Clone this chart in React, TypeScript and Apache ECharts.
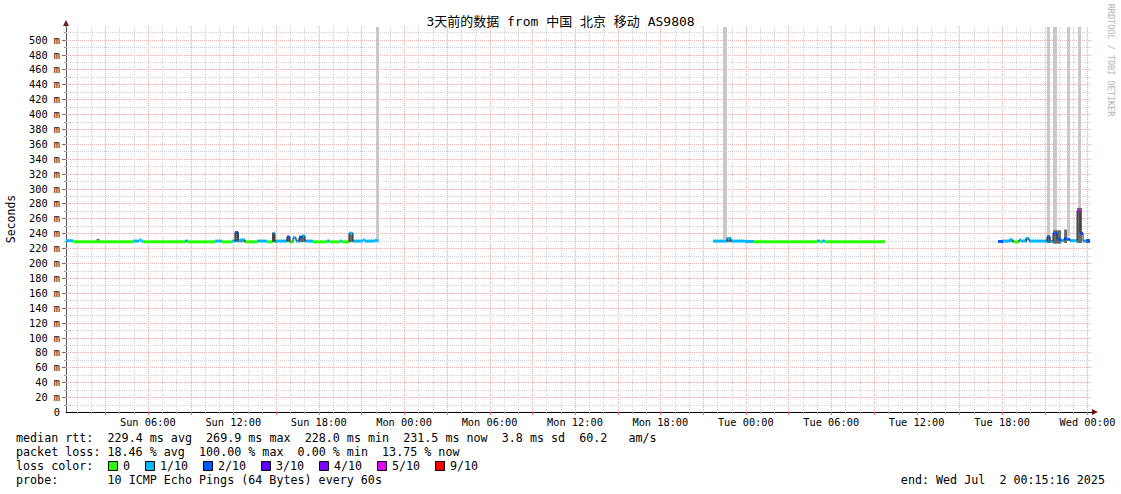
import React, { useEffect, useRef } from 'react';
import * as echarts from 'echarts';

// ---------------- data ----------------
const chartTitle = '3天前的数据 from 中国 北京 移动 AS9808';
const yAxisName = 'Seconds';
const watermark = 'RRDTOOL / TOBI OETIKER';

// x axis: hours since Sun 00:00 (start Sun 00:15, end Wed 00:15)
const xStartHour = 0.25;
const xEndHour = 72.25;
const dayNames = ['Sun', 'Mon', 'Tue', 'Wed'];
const xLabelHours = [6, 12, 18, 24, 30, 36, 42, 48, 54, 60, 66, 72];
const yMin = 0;
const yMax = 517;
const yLabelStep = 20;

const lossColors = ['#26ff00', '#00b8ff', '#0059ff', '#5e00ff', '#7e00ff', '#dd00ff', '#ff0000'];
const lossLabels = ['0', '1/10', '2/10', '3/10', '4/10', '5/10', '9/10'];

// median rtt segments: [startHour, endHour, median ms, loss colour index]
const medianSegments: number[][] = [
  [0.25, 0.74, 230, 1],
  [0.74, 4.96, 228.5, 0],
  [4.96, 5.4, 229.5, 1],
  [5.4, 5.55, 231, 1],
  [5.55, 5.66, 229.5, 1],
  [5.66, 8.61, 228.5, 0],
  [8.61, 8.82, 229.5, 1],
  [8.82, 10.72, 228.5, 0],
  [10.72, 11.21, 229.5, 1],
  [11.21, 11.91, 228.5, 0],
  [11.91, 12.12, 229.5, 1],
  [12.12, 12.33, 241, 2],
  [12.33, 12.5, 230, 1],
  [12.5, 12.82, 231, 1],
  [12.82, 13.67, 228.5, 0],
  [13.67, 14.37, 229.5, 1],
  [14.37, 14.79, 228.5, 0],
  [14.79, 14.93, 240, 1],
  [14.93, 15.07, 229, 1],
  [15.07, 15.77, 229.5, 1],
  [15.77, 15.98, 235, 2],
  [15.98, 16.2, 228.5, 0],
  [16.2, 16.41, 234, 1],
  [16.41, 16.62, 229.5, 1],
  [16.62, 16.83, 234, 2],
  [16.83, 17.04, 236.5, 1],
  [17.04, 17.6, 229.5, 1],
  [17.6, 18.58, 228.5, 0],
  [18.58, 18.79, 229.5, 1],
  [18.79, 19.5, 228.5, 0],
  [19.5, 19.64, 229.5, 1],
  [19.64, 20.13, 228.5, 0],
  [20.13, 20.41, 240, 1],
  [20.41, 21.1, 229.5, 1],
  [21.1, 21.25, 231, 1],
  [21.25, 21.95, 229.5, 1],
  [21.95, 22.1, 230.5, 1],
  [22.1, 22.2, 229.5, 1],

  [45.7, 46.68, 229.5, 1],
  [46.68, 46.96, 233, 1],
  [46.96, 47.95, 229.5, 1],
  [47.95, 48.58, 229, 1],
  [48.58, 53.0, 228.5, 0],
  [53.0, 53.22, 229.5, 1],
  [53.22, 53.36, 228.5, 0],
  [53.36, 53.57, 229.5, 1],
  [53.57, 57.78, 228.5, 0],

  [65.72, 66.07, 229, 2],
  [66.07, 66.49, 229.5, 1],
  [66.49, 66.77, 231, 1],
  [66.77, 67.19, 228.5, 0],
  [67.19, 67.33, 231, 1],
  [67.33, 67.69, 229.5, 1],
  [67.69, 67.9, 233, 1],
  [67.9, 69.16, 229.5, 1],
  [69.16, 69.37, 235, 2],
  [69.37, 69.58, 229, 1],
  [69.58, 69.86, 240, 2],
  [69.86, 70.15, 232, 2],
  [70.15, 70.36, 230, 1],
  [70.36, 70.57, 233, 2],
  [70.57, 70.78, 232, 2],
  [70.78, 71.27, 230, 1],
  [71.27, 71.48, 270, 5],
  [71.48, 71.69, 240, 2],
  [71.69, 71.9, 229.5, 1],
  [71.9, 72.18, 230, 2],
];

// smoke (spread of the pings): [startHour, endHour, low ms, high ms]
const smokeBands: number[][] = [
  [2.4, 2.6, 228.5, 232.5],
  [12.12, 12.4, 228, 242],
  [12.4, 12.82, 228, 232],
  [14.72, 14.93, 228, 241],
  [15.77, 15.98, 228, 235],
  [16.62, 17.04, 228, 237],
  [20.13, 20.41, 228, 241],
  [46.68, 46.96, 228, 235],
  [66.49, 66.77, 228, 232],
  [67.62, 67.76, 228, 233],
  [69.16, 69.4, 227, 237],
  [69.58, 70.15, 226, 244],
  [70.36, 70.57, 227, 245],
  [71.27, 71.62, 227, 274],
  [71.9, 72.18, 227, 232],
];

// full-loss columns: [startHour, endHour, low ms]
const outageBars: number[][] = [
  [22.03, 22.24, 230],
  [46.4, 46.68, 232],
  [69.16, 69.37, 236],
  [69.58, 69.86, 240],
  [70.57, 70.78, 236],
  [71.34, 71.55, 250],
];

const statsLines = [
  'median rtt:  229.4 ms avg  269.9 ms max  228.0 ms min  231.5 ms now  3.8 ms sd  60.2   am/s',
  'packet loss: 18.46 % avg  100.00 % max  0.00 % min  13.75 % now',
];
const lossColorLabel = 'loss color:';
const probeLabel = 'probe:';
const probeText = '10 ICMP Echo Pings (64 Bytes) every 60s';
const endText = 'end: Wed Jul  2 00:15:16 2025';

// grid line positions (axis ticks)
const minorHours = Array.from({ length: 72 }, (_, i) => i + 1);
const msGrid = Array.from({ length: 51 }, (_, i) => (i + 1) * 10);

// ---------------- layout ----------------
const W = 1121;
const H = 494;
const GRID = { left: 66, top: 27, right: 30, bottom: 82 };
const MONO = '"DejaVu Sans Mono", "Noto Sans CJK SC", monospace';
const CHAR_W = 7.04;

function pad2(n: number) {
  return (n < 10 ? '0' : '') + n;
}

function monoLine(text: string, x0: number, y: number) {
  const out: any[] = [];
  const re = /\S+( \S+)*/g;
  let m: RegExpExecArray | null;
  while ((m = re.exec(text))) {
    out.push({
      type: 'text',
      x: x0 + m.index * CHAR_W,
      y,
      style: { text: m[0], font: `11.7px ${MONO}`, fill: '#000', verticalAlign: 'middle' },
    });
  }
  return out;
}

export default function App() {
  const ref = useRef<HTMLDivElement>(null);

  useEffect(() => {
    if (!ref.current) return;
    const chart = echarts.init(ref.current, undefined, { renderer: 'svg' });

    const vGridData = minorHours.map((h) => [h, h % 3 === 0 ? 1 : 0]);
    const hGridData = msGrid.map((v) => [v, v % 20 === 0 ? 1 : 0]);

    const graphics: any[] = [];
    graphics.push({
      type: 'text',
      x: W / 2,
      y: 21,
      style: { text: chartTitle, font: `13px ${MONO}`, fill: '#000', align: 'center', verticalAlign: 'middle' },
    });
    graphics.push({
      type: 'text',
      x: 11,
      y: 219,
      rotation: Math.PI / 2,
      style: { text: yAxisName, font: `11.5px ${MONO}`, fill: '#000', align: 'center', verticalAlign: 'middle' },
    });
    graphics.push({
      type: 'text',
      x: 1111,
      y: 60,
      rotation: -Math.PI / 2,
      style: { text: watermark, font: `8.5px ${MONO}`, fill: '#b4b4b4', align: 'center', verticalAlign: 'middle' },
    });
    // axis arrows
    graphics.push({
      type: 'polygon',
      shape: { points: [[63, 26], [69, 26], [66, 20]] },
      style: { fill: '#7f1010' },
    });
    graphics.push({
      type: 'line',
      shape: { x1: 66, y1: 27, x2: 66, y2: 24 },
      style: { stroke: '#555', lineWidth: 1 },
    });
    graphics.push({
      type: 'polygon',
      shape: { points: [[1092, 409], [1092, 415], [1098, 412]] },
      style: { fill: '#7f1010' },
    });
    graphics.push({
      type: 'line',
      shape: { x1: 1090, y1: 412.5, x2: 1093, y2: 412.5 },
      style: { stroke: '#000', lineWidth: 1 },
    });

    // legend/statistics text
    statsLines.forEach((line, i) => graphics.push(...monoLine(line, 16, 438 + i * 14)));
    graphics.push(...monoLine(lossColorLabel, 16, 466));
    const boxX = [108, 145, 203, 261, 319, 377, 435];
    lossLabels.forEach((lbl, i) => {
      graphics.push({
        type: 'rect',
        shape: { x: boxX[i] + 0.5, y: 461.5, width: 9, height: 9 },
        style: { fill: lossColors[i], stroke: '#000', lineWidth: 1 },
      });
      graphics.push({
        type: 'text',
        x: boxX[i] + 15,
        y: 466,
        style: { text: lbl, font: `11.7px ${MONO}`, fill: '#000', verticalAlign: 'middle' },
      });
    });
    graphics.push(...monoLine(probeLabel, 16, 480));
    graphics.push(...monoLine(probeText, 16 + 13 * CHAR_W, 480));
    graphics.push(...monoLine(endText, 1105 - endText.length * CHAR_W, 480));

    const option: any = {
      animation: false,
      backgroundColor: '#ffffff',
      grid: { ...GRID, containLabel: false },
      xAxis: {
        type: 'value',
        min: xStartHour,
        max: xEndHour,
        axisLine: { show: true, onZero: false, lineStyle: { color: '#000', width: 1 } },
        axisTick: { show: false },
        splitLine: { show: false },
        axisLabel: {
          customValues: xLabelHours,
          margin: 5,
          fontFamily: MONO,
          fontSize: 10.3,
          color: '#000',
          formatter: (v: number) => `${dayNames[Math.floor(v / 24)]} ${pad2(v % 24)}:00`,
        },
      },
      yAxis: {
        type: 'value',
        min: yMin,
        max: yMax,
        interval: yLabelStep,
        axisLine: { show: true, lineStyle: { color: '#555', width: 1 } },
        axisTick: { show: false },
        splitLine: { show: false },
        axisLabel: {
          showMaxLabel: false,
          margin: 6,
          fontFamily: MONO,
          fontSize: 10.3,
          color: '#000',
          formatter: (v: number) => (v === 0 ? '0' : `${v} m`),
        },
      },
      graphic: graphics,
      series: [
        {
          type: 'custom',
          name: 'vgrid',
          clip: false,
          silent: true,
          z: 1,
          data: vGridData,
          encode: { x: 0 },
          renderItem: (params: any, api: any) => {
            const cs = params.coordSys;
            const major = api.value(1) === 1;
            const x = Math.round(api.coord([api.value(0), 0])[0]) + 0.5;
            return {
              type: 'group',
              children: [
                {
                  type: 'line',
                  shape: { x1: x, y1: cs.y, x2: x, y2: cs.y + cs.height },
                  style: { stroke: major ? '#f2a8a8' : '#d2d2d2', lineWidth: 1, lineDash: [1, 1] },
                },
                {
                  type: 'line',
                  shape: { x1: x, y1: cs.y + cs.height, x2: x, y2: cs.y + cs.height + (major ? 3 : 2) },
                  style: { stroke: major ? '#e07070' : '#aaaaaa', lineWidth: 1 },
                },
              ],
            };
          },
        },
        {
          type: 'custom',
          name: 'hgrid',
          clip: false,
          silent: true,
          z: 1,
          data: hGridData,
          encode: { y: 0 },
          renderItem: (params: any, api: any) => {
            const cs = params.coordSys;
            const major = api.value(1) === 1;
            const y = Math.round(api.coord([xStartHour, api.value(0)])[1]) + 0.5;
            return {
              type: 'group',
              children: [
                {
                  type: 'line',
                  shape: { x1: cs.x, y1: y, x2: cs.x + cs.width, y2: y },
                  style: { stroke: major ? '#f2b0b0' : '#d2d2d2', lineWidth: 1, lineDash: [1, 1] },
                },
                {
                  type: 'line',
                  shape: { x1: cs.x - (major ? 4 : 2), y1: y, x2: cs.x, y2: y },
                  style: { stroke: major ? '#777' : '#999', lineWidth: 1 },
                },
              ],
            };
          },
        },
        {
          type: 'custom',
          name: 'loss',
          silent: true,
          z: 2,
          data: outageBars,
          encode: { x: [0, 1], y: 2 },
          renderItem: (params: any, api: any) => {
            const p1 = api.coord([api.value(0), yMax]);
            const p2 = api.coord([api.value(1), api.value(2)]);
            return {
              type: 'rect',
              shape: { x: p1[0], y: p1[1], width: Math.max(p2[0] - p1[0], 1), height: p2[1] - p1[1] },
              style: { fill: '#c8c8c8' },
            };
          },
        },
        {
          type: 'custom',
          name: 'smoke',
          silent: true,
          z: 3,
          data: smokeBands,
          encode: { x: [0, 1], y: [2, 3] },
          renderItem: (params: any, api: any) => {
            const p1 = api.coord([api.value(0), api.value(3)]);
            const p2 = api.coord([api.value(1), api.value(2)]);
            return {
              type: 'rect',
              shape: { x: p1[0], y: p1[1], width: Math.max(p2[0] - p1[0], 1), height: p2[1] - p1[1] },
              style: { fill: '#6a6a6a' },
            };
          },
        },
        {
          type: 'custom',
          name: 'median rtt',
          silent: true,
          z: 4,
          data: medianSegments,
          encode: { x: [0, 1], y: 2 },
          renderItem: (params: any, api: any) => {
            const s = api.value(0);
            const e = api.value(1);
            const m = api.value(2);
            const l = api.value(3);
            const p1 = api.coord([s, m]);
            const p2 = api.coord([e, m]);
            const children: any[] = [
              {
                type: 'rect',
                shape: { x: p1[0], y: p1[1] - 1.5, width: Math.max(p2[0] - p1[0], 1), height: 3 },
                style: { fill: lossColors[l] },
              },
            ];
            const prev = medianSegments[params.dataIndex - 1];
            if (prev && Math.abs(prev[1] - s) < 0.02 && Math.abs(prev[2] - m) > 1.5) {
              const py = api.coord([s, prev[2]])[1];
              children.push({
                type: 'line',
                shape: { x1: p1[0], y1: py, x2: p1[0], y2: p1[1] },
                style: { stroke: '#222', lineWidth: 1 },
              });
            }
            return { type: 'group', children };
          },
        },
      ],
    };

    chart.setOption(option);
    return () => chart.dispose();
  }, []);

  return (
    <div
      ref={ref}
      style={{ position: 'fixed', left: 0, top: 0, width: W, height: H, background: '#fff' }}
    />
  );
}
